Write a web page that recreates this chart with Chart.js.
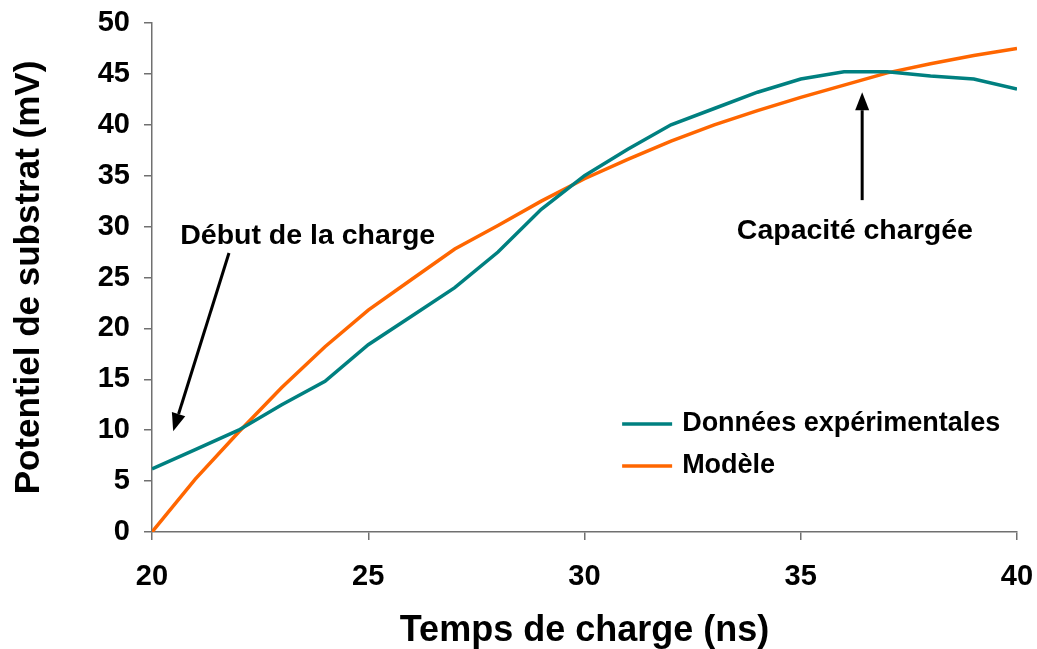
<!DOCTYPE html>
<html>
<head>
<meta charset="utf-8">
<script src="https://cdn.jsdelivr.net/npm/chart.js@4/dist/chart.umd.min.js"></script>
<style>
  html, body { margin: 0; padding: 0; background: #fff; }
  #wrap { width: 1037px; height: 649px; }
</style>
</head>
<body>
<div id="wrap"><canvas id="chart"></canvas></div>
<script>
// temps de charge (ns)
const times = [20, 21, 22, 23, 24, 25, 26, 27, 28, 29, 30, 31, 32, 33, 34, 35, 36, 37, 38, 39, 40]
// potentiel mesuré (mV)
const mesures = [6.2, 8.1, 10.0, 12.5, 14.8, 18.4, 21.2, 24.0, 27.5, 31.7, 35.0, 37.6, 40.0, 41.6, 43.2, 44.5, 45.2, 45.2, 44.8, 44.5, 43.5]
// potentiel calculé par le modèle (mV)
const modele = [0.0, 5.2, 9.8, 14.2, 18.2, 21.8, 24.8, 27.8, 30.1, 32.5, 34.7, 36.6, 38.4, 40.0, 41.4, 42.7, 43.9, 45.1, 46.0, 46.8, 47.5]
const seriesNames = ['Données expérimentales', 'Modèle']
const seriesColors = ['#008080', '#FF6600']

const FONT = 'Arial, "Liberation Sans", sans-serif'

const toPoints = (ys) => times.map((t, i) => ({ x: t, y: ys[i] }))

// flèches et textes placés en coordonnées des axes
const notes = [
  { text: 'Début de la charge', x: 23.6, y: 29.1, from: [21.78, 27.4], to: [20.49, 9.9] },
  { text: 'Capacité chargée', x: 36.25, y: 29.6, from: [36.42, 32.6], to: [36.42, 43.2] },
]

function drawArrow(ctx, x1, y1, x2, y2) {
  const ang = Math.atan2(y2 - y1, x2 - x1)
  const head = 18, half = 7
  const bx = x2 - head * Math.cos(ang), by = y2 - head * Math.sin(ang)
  ctx.beginPath()
  ctx.moveTo(x1, y1)
  ctx.lineTo(bx, by)
  ctx.lineWidth = 3
  ctx.strokeStyle = '#000'
  ctx.stroke()
  ctx.beginPath()
  ctx.moveTo(x2, y2)
  ctx.lineTo(bx + half * Math.sin(ang), by - half * Math.cos(ang))
  ctx.lineTo(bx - half * Math.sin(ang), by + half * Math.cos(ang))
  ctx.closePath()
  ctx.fillStyle = '#000'
  ctx.fill()
}

const annotations = {
  id: 'annotations',
  afterDatasetsDraw(chart) {
    const { ctx, scales: { x, y } } = chart
    ctx.save()
    ctx.font = 'bold 28.5px ' + FONT
    ctx.textAlign = 'center'
    ctx.textBaseline = 'middle'
    ctx.fillStyle = '#000'
    notes.forEach((n) => {
      ctx.fillText(n.text, x.getPixelForValue(n.x), y.getPixelForValue(n.y))
      drawArrow(ctx,
        x.getPixelForValue(n.from[0]), y.getPixelForValue(n.from[1]),
        x.getPixelForValue(n.to[0]), y.getPixelForValue(n.to[1]))
    })

    // légende dans la zone du graphique
    const lx = x.getPixelForValue(30.87)
    const lw = 50
    const rows = [10.6, 6.5]
    ctx.font = 'bold 27px ' + FONT
    ctx.textAlign = 'left'
    seriesNames.forEach((name, i) => {
      const ly = Math.round(y.getPixelForValue(rows[i]))
      ctx.beginPath()
      ctx.moveTo(lx, ly)
      ctx.lineTo(lx + lw, ly)
      ctx.lineWidth = 3.5
      ctx.strokeStyle = seriesColors[i]
      ctx.stroke()
      ctx.fillText(name, lx + lw + 10, ly)
    })
    ctx.restore()
  },
}

new Chart(document.getElementById('chart'), {
  type: 'line',
  data: {
    datasets: [
      { label: seriesNames[0], data: toPoints(mesures), borderColor: seriesColors[0], borderWidth: 3.5, pointRadius: 0, tension: 0 },
      { label: seriesNames[1], data: toPoints(modele), borderColor: seriesColors[1], borderWidth: 3.5, pointRadius: 0, tension: 0 },
    ],
  },
  options: {
    responsive: true,
    maintainAspectRatio: false,
    animation: false,
    layout: { padding: { top: 23, right: 20, left: 0, bottom: 0 } },
    plugins: { legend: { display: false }, tooltip: { enabled: false } },
    scales: {
      x: {
        type: 'linear',
        min: 20,
        max: 40,
        ticks: { stepSize: 5, color: '#000', padding: 20, font: { family: FONT, size: 29, weight: 'bold' } },
        grid: { drawOnChartArea: false, tickLength: 8, color: '#707070', lineWidth: 1.5 },
        border: { color: '#707070', width: 1.5 },
        title: { display: true, text: 'Temps de charge (ns)', color: '#000', padding: 0, font: { family: FONT, size: 36, weight: 'bold', lineHeight: 1 } },
        afterFit: (s) => {
          s.height = 117
          s.paddingLeft = 0
          s.paddingRight = 0
        },
      },
      y: {
        min: 0,
        max: 50,
        ticks: { stepSize: 5, color: '#000', padding: 14, font: { family: FONT, size: 29, weight: 'bold' } },
        grid: { drawOnChartArea: false, tickLength: 8, color: '#707070', lineWidth: 1.5 },
        border: { color: '#707070', width: 1.5 },
        title: { display: true, text: 'Potentiel de substrat (mV)', color: '#000', padding: { top: 12, bottom: 0 }, font: { family: FONT, size: 35, weight: 'bold', lineHeight: 1 } },
        afterFit: (s) => {
          s.width = 152
          s.paddingTop = 0
          s.paddingBottom = 0
        },
      },
    },
  },
  plugins: [annotations],
})
</script>
</body>
</html>
